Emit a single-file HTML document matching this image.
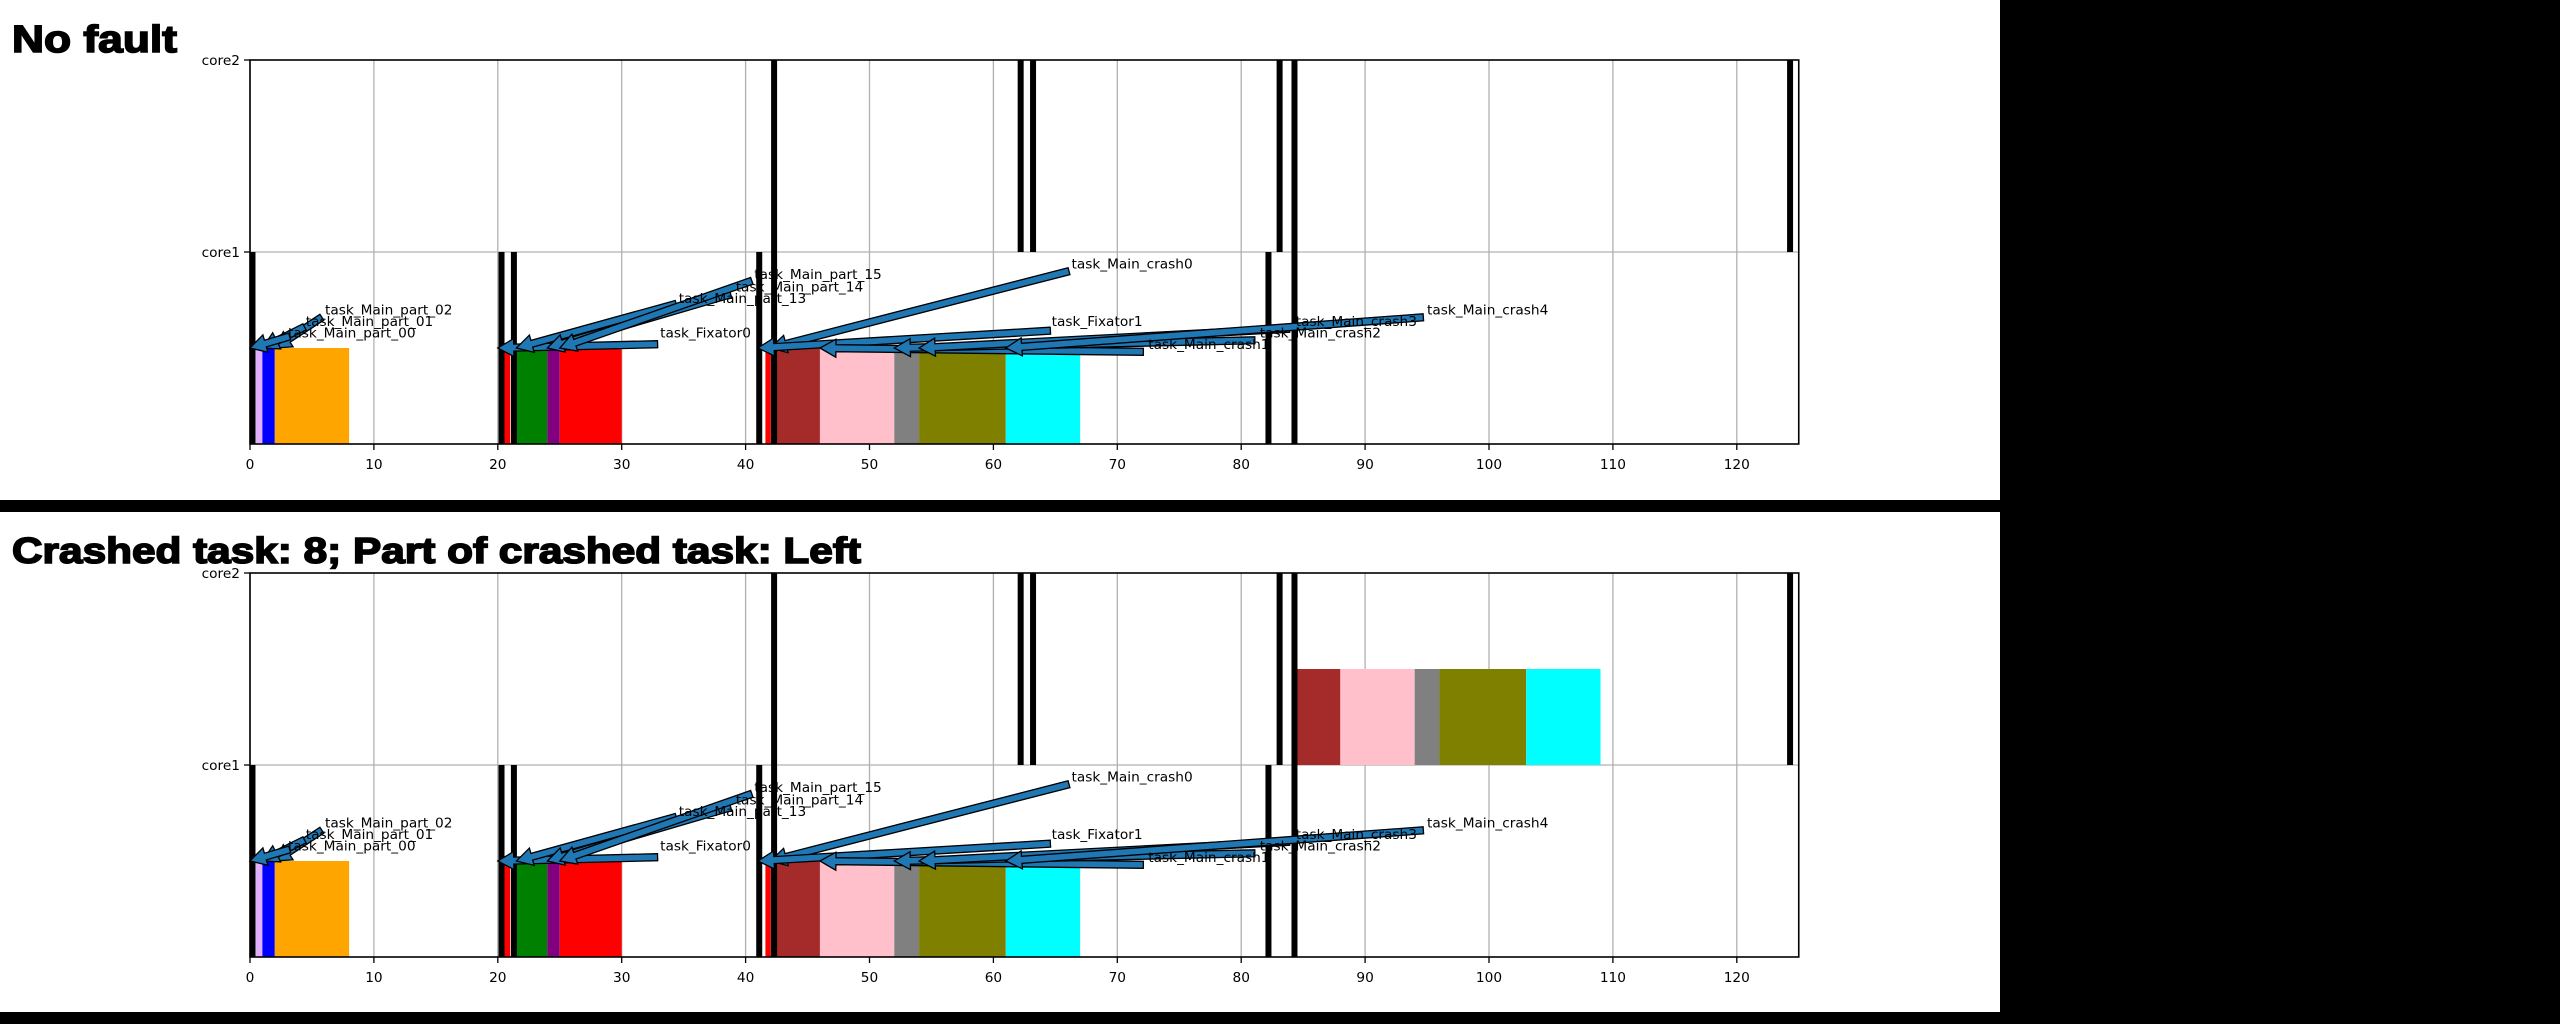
<!DOCTYPE html>
<html><head><meta charset="utf-8"><style>
html,body{margin:0;padding:0;background:#000;}
svg{display:block;}
</style></head><body>
<svg id="fig" width="2560" height="1024" xmlns="http://www.w3.org/2000/svg">
<rect x="0" y="0" width="2560" height="1024" fill="#000"/>
<rect x="0" y="0" width="2000" height="500" fill="#fff"/>
<rect x="0" y="512" width="2000" height="500" fill="#fff"/>
<text x="12" y="52" font-family="Liberation Sans, sans-serif" font-weight="bold" font-size="38" stroke="#000" stroke-width="1.6" textLength="165" lengthAdjust="spacingAndGlyphs">No fault</text>
<text x="12" y="563" font-family="Liberation Sans, sans-serif" font-weight="bold" font-size="36" stroke="#000" stroke-width="1.6" textLength="849" lengthAdjust="spacingAndGlyphs">Crashed task: 8; Part of crashed task: Left</text>
</svg>
<script>
// ---- data ----
const xTicks = [0,10,20,30,40,50,60,70,80,90,100,110,120];
const yTickLabels = ["core1","core2"];
const core1Starts = [0.45,1,2,20.5,21.5,24,25,41.6,42,46,52,54,61];
const core1Ends   = [1,2,8,21,24,25,30,42,46,52,54,61,67];
const core1Colors = ["#e0b0ff","#0000ff","#ffa500","#ff0000","#008000","#800080","#ff0000","#ff0000","#a52a2a","#ffc0cb","#808080","#808000","#00ffff"];
const core2StartsCrash = [84.3,88,94,96,103];
const core2EndsCrash   = [88,94,96,103,109];
const core2ColorsCrash = ["#a52a2a","#ffc0cb","#808080","#808000","#00ffff"];
const core1Lines = [0.2,20.3,21.3,41.1,42.3,82.2,84.3];
const core2Lines = [42.3,62.2,63.2,83.1,84.3,124.3];
const annLabels  = ["task_Main_part_02","task_Main_part_01","task_Main_part_00","task_Fixator0","task_Main_part_13","task_Main_part_14","task_Main_part_15","task_Main_crash0","task_Fixator1","task_Main_crash1","task_Main_crash2","task_Main_crash3","task_Main_crash4"];
const annTargets = [2,1,0,20,21.5,24,25,42,41,46,52,54,61];
const annTextX   = [6.05,4.5,3.07,33.1,34.6,39.2,40.7,66.3,64.7,72.5,81.5,84.4,95];
const annTextY   = [0.70,0.64,0.58,0.58,0.76,0.82,0.885,0.94,0.64,0.52,0.58,0.64,0.70];
const annTailX   = [5.8,4.4,3.2,32.9,34.4,38.8,40.5,66.1,64.6,72.1,81.1,83.9,94.7];
const annTailY   = [0.66,0.61,0.56,0.52,0.73,0.78,0.85,0.90,0.59,0.48,0.54,0.60,0.66];

const NS="http://www.w3.org/2000/svg";
const svg=document.getElementById('fig');
const X0=250, PXU=12.39;
function xs(v){return X0+v*PXU;}
function mk(tag,attrs,parent){const e=document.createElementNS(NS,tag);for(const k in attrs)e.setAttribute(k,attrs[k]);(parent||svg).appendChild(e);return e;}

function drawPanel(bottom, withCrash, pname){
  const unit=192, top=bottom-2*unit;
  const ys=v=>bottom-v*unit;
  const g=mk('g',{});
  
  
  xTicks.forEach(t=>{
    const l=mk('line',{x1:xs(t),x2:xs(t),y1:top,y2:bottom,stroke:'#b0b0b0','stroke-width':1.3},g);
    
    
  });
  const hl=mk('line',{x1:X0,x2:xs(125),y1:ys(1),y2:ys(1),stroke:'#b0b0b0','stroke-width':1.3},g);
  
  
  function bars(st,en,col,row){
    st.forEach((s,i)=>{
      const r=mk('rect',{x:xs(s),y:ys(row-0.5),width:xs(en[i])-xs(s),height:unit*0.5,fill:col[i]},g);
      
      
    });
  }
  bars(core1Starts,core1Ends,core1Colors,1);
  if(withCrash) bars(core2StartsCrash,core2EndsCrash,core2ColorsCrash,2);
  core1Lines.forEach(v=>{
    const r=mk('rect',{x:xs(v)-3,y:ys(1),width:6,height:unit,fill:'#000'},g);
    
    
  });
  core2Lines.forEach(v=>{
    const r=mk('rect',{x:xs(v)-3,y:ys(2),width:6,height:unit,fill:'#000'},g);
    
    
  });
  const sp=mk('rect',{x:X0,y:top,width:xs(125)-X0,height:2*unit,fill:'none',stroke:'#000','stroke-width':1.6},g);
  
  
  xTicks.forEach(t=>{
    mk('line',{x1:xs(t),x2:xs(t),y1:bottom,y2:bottom+6,stroke:'#000','stroke-width':1.3},g);
    const tx=mk('text',{x:xs(t),y:bottom+25,'text-anchor':'middle','font-family':'DejaVu Sans, sans-serif','font-size':13.7,fill:'#000'},g);
    tx.textContent=t;
    
    
  });
  yTickLabels.forEach((lab,i)=>{
    const v=i+1;
    mk('line',{x1:X0-6,x2:X0,y1:ys(v),y2:ys(v),stroke:'#000','stroke-width':1.3},g);
    const tx=mk('text',{x:X0-10,y:ys(v)+5,'text-anchor':'end','font-family':'DejaVu Sans, sans-serif','font-size':13.7,fill:'#000'},g);
    tx.textContent=lab;
    
    
  });
  annLabels.forEach((lab,i)=>{
    const tx0=xs(annTailX[i]), ty0=ys(annTailY[i]);
    const hx=xs(annTargets[i]), hy=ys(0.5);
    const dx=hx-tx0, dy=hy-ty0, L=Math.hypot(dx,dy), ux=dx/L, uy=dy/L, nx=-uy, ny=ux;
    const sw=3.5, hw=9, hl=16;
    const bx=hx-ux*hl, by=hy-uy*hl;
    const pts=[[tx0+nx*sw,ty0+ny*sw],[bx+nx*sw,by+ny*sw],[bx+nx*hw,by+ny*hw],[hx,hy],[bx-nx*hw,by-ny*hw],[bx-nx*sw,by-ny*sw],[tx0-nx*sw,ty0-ny*sw]];
    const p=mk('polygon',{points:pts.map(q=>q[0].toFixed(1)+','+q[1].toFixed(1)).join(' '),fill:'#1f77b4',stroke:'#000','stroke-width':1.3,'stroke-linejoin':'miter'},g);
    
    
  });
  annLabels.forEach((lab,i)=>{
    const t=mk('text',{x:xs(annTextX[i]),y:ys(annTextY[i])+5,'font-family':'DejaVu Sans, sans-serif','font-size':13.7,fill:'#000'},g);
    t.textContent=lab;
    
    
  });
}
drawPanel(444,false,'no-fault');
drawPanel(957,true,'crashed');
</script>
</body></html>
